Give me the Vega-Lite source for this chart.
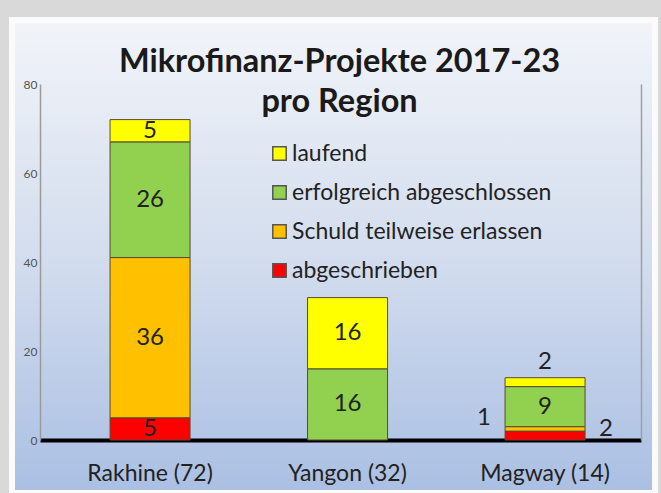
{
  "$schema": "https://vega.github.io/schema/vega-lite/v6.json",
  "autosize": {"type": "none"},
  "width": 643,
  "height": 473,
  "padding": {"left": 12, "top": 20, "right": 6, "bottom": 0},
  "background": "#d9d9d9",
  "config": {
    "font": "Lato",
    "view": {
      "fill": {"gradient": "linear", "x1": 0, "y1": 0, "x2": 0, "y2": 1,
        "stops": [{"offset": 0, "color": "#f2f4f9"}, {"offset": 0.5, "color": "#d3ddee"}, {"offset": 1, "color": "#aabfe3"}]},
      "stroke": "#fbfbfb",
      "strokeWidth": 6
    }
  },
  "title": {
    "text": ["Mikrofinanz-Projekte 2017-23", "pro Region"],
    "font": "Lato",
    "fontSize": 32.5,
    "fontWeight": "bold",
    "color": "#1a1a1a",
    "lineHeight": 40,
    "anchor": "middle",
    "frame": "group",
    "baseline": "alphabetic",
    "offset": -124,
    "dx": 6
  },
  "data": {
    "values": [
      {"region": "Rakhine (72)", "status": "abgeschrieben", "anzahl": 5, "rang": 1},
      {"region": "Rakhine (72)", "status": "Schuld teilweise erlassen", "anzahl": 36, "rang": 2},
      {"region": "Rakhine (72)", "status": "erfolgreich abgeschlossen", "anzahl": 26, "rang": 3},
      {"region": "Rakhine (72)", "status": "laufend", "anzahl": 5, "rang": 4},
      {"region": "Yangon (32)", "status": "erfolgreich abgeschlossen", "anzahl": 16, "rang": 3},
      {"region": "Yangon (32)", "status": "laufend", "anzahl": 16, "rang": 4},
      {"region": "Magway (14)", "status": "abgeschrieben", "anzahl": 2, "rang": 1},
      {"region": "Magway (14)", "status": "Schuld teilweise erlassen", "anzahl": 1, "rang": 2},
      {"region": "Magway (14)", "status": "erfolgreich abgeschlossen", "anzahl": 9, "rang": 3},
      {"region": "Magway (14)", "status": "laufend", "anzahl": 2, "rang": 4}
    ]
  },
  "transform": [
    {"stack": "anzahl", "groupby": ["region"], "sort": [{"field": "rang"}], "as": ["y0", "y1"]}
  ],
  "encoding": {
    "x": {
      "field": "region", "type": "nominal", "sort": null,
      "scale": {"range": [28, 629], "paddingInner": 0.595, "paddingOuter": 0.319, "align": 0.556},
      "axis": {
        "title": null, "orient": "bottom", "offset": -53,
        "domainColor": "#000000", "domainWidth": 4, "ticks": false,
        "labelAngle": 0, "labelPadding": 22, "labelFont": "Lato", "labelFontSize": 23,
        "labelColor": "#222222"
      }
    }
  },
  "layer": [
    {
      "mark": {"type": "bar", "stroke": "#5c4a2e", "strokeWidth": 1},
      "encoding": {
        "y": {
          "field": "y0", "type": "quantitative",
          "scale": {"domain": [0, 80], "range": [420, 64], "nice": false, "zero": true},
          "axis": {
            "title": null, "orient": "left", "offset": -28, "values": [0, 20, 40, 60, 80],
            "grid": false, "ticks": false, "domainColor": "#9a9a9a", "domainWidth": 1.5,
            "labelPadding": 3, "labelFont": "Lato", "labelFontSize": 12, "labelColor": "#555555"
          }
        },
        "y2": {"field": "y1"},
        "color": {
          "field": "status", "type": "nominal",
          "scale": {
            "domain": ["laufend", "erfolgreich abgeschlossen", "Schuld teilweise erlassen", "abgeschrieben"],
            "range": ["#ffff00", "#92d050", "#ffc000", "#ff0000"]
          },
          "legend": {
            "title": null, "orient": "none", "legendX": 256, "legendY": 122,
            "padding": 0, "symbolType": "square", "symbolSize": 180,
            "symbolStrokeColor": "#555555", "symbolStrokeWidth": 1.5, "symbolOpacity": 1,
            "labelFont": "Lato", "labelFontSize": 23, "labelColor": "#222222",
            "labelOffset": 1, "rowPadding": 15, "labelLimit": 400
          }
        }
      }
    },
    {
      "transform": [
        {"fold": ["y0", "y1"], "as": ["ende", "pos"]},
        {"aggregate": [{"op": "mean", "field": "pos", "as": "mitte"}], "groupby": ["region", "status", "anzahl"]}
      ],
      "encoding": {
        "y": {
          "field": "mitte", "type": "quantitative",
          "axis": {
            "title": null, "orient": "right", "offset": -14, "labels": false, "ticks": false,
            "grid": false, "domainColor": "#a0a0a0", "domainWidth": 1.5
          }
        },
        "text": {"field": "anzahl", "type": "quantitative"}
      },
      "layer": [
        {
          "transform": [{"filter": "datum.region != 'Magway (14)' || datum.status == 'erfolgreich abgeschlossen'"}],
          "mark": {"type": "text", "font": "Lato", "fontSize": 24, "color": "#222222", "baseline": "middle"}
        },
        {
          "transform": [{"filter": "datum.region == 'Magway (14)' && datum.status == 'laufend'"}],
          "mark": {"type": "text", "font": "Lato", "fontSize": 24, "color": "#222222", "baseline": "middle", "dy": -20}
        },
        {
          "transform": [{"filter": "datum.region == 'Magway (14)' && datum.status == 'Schuld teilweise erlassen'"}],
          "mark": {"type": "text", "font": "Lato", "fontSize": 24, "color": "#222222", "baseline": "middle", "dx": -61, "dy": -11}
        },
        {
          "transform": [{"filter": "datum.region == 'Magway (14)' && datum.status == 'abgeschrieben'"}],
          "mark": {"type": "text", "font": "Lato", "fontSize": 24, "color": "#222222", "baseline": "middle", "dx": 61, "dy": -7}
        }
      ]
    }
  ],
  "resolve": {"axis": {"y": "independent"}}
}
